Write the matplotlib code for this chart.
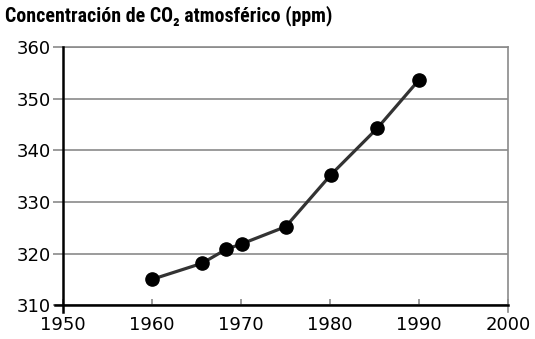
import matplotlib
matplotlib.use("Agg")
import matplotlib.pyplot as plt

# CO2 measurements (year, ppm)
years = [1960, 1965.6, 1968.3, 1970.1, 1975, 1980.1, 1985.3, 1990]
co2 = [315.0, 318.1, 320.8, 321.9, 325.2, 335.3, 344.3, 353.7]

x_ticks = [1950, 1960, 1970, 1980, 1990, 2000]
y_ticks = [310, 320, 330, 340, 350, 360]

fig = plt.figure(figsize=(5.35, 3.39), dpi=100)
ax = fig.add_axes([0.118, 0.100, 0.832, 0.761])

ax.plot(years, co2, color='#333333', lw=2.3, marker='o', ms=9.5,
        mfc='black', mec='black', zorder=3, clip_on=False)

ax.set_xlim(1950, 2000)
ax.set_ylim(310, 360)
ax.set_xticks(x_ticks)
ax.set_yticks(y_ticks)
ax.grid(axis='y', color='#8a8a8a', lw=1.2)
ax.set_axisbelow(True)

grey = '#8a8a8a'
for side in ['left', 'bottom']:
    ax.spines[side].set_linewidth(1.8)
    ax.spines[side].set_color('black')
for side in ['top', 'right']:
    ax.spines[side].set_linewidth(1.2)
    ax.spines[side].set_color(grey)
    ax.spines[side].set_zorder(1)

# spines run a little past the corners
ax.spines['left'].set_bounds(308.7, 360)
ax.spines['right'].set_bounds(308.7, 360)
ax.spines['bottom'].set_bounds(1949.1, 2000)

ax.tick_params(axis='y', labelsize=13, direction='out', length=7, width=1.2,
               color=grey, pad=2)
ax.tick_params(axis='x', labelsize=13, direction='in', length=4, width=1.2,
               color=grey, pad=8)

fig.text(0.01, 0.953, 'Concentración de CO₂ atmosférico (ppm)',
         family=['Roboto Condensed', 'DejaVu Sans'], weight='bold',
         fontsize=14.3, va='center', ha='left')

fig.savefig('out.png', dpi=100)
